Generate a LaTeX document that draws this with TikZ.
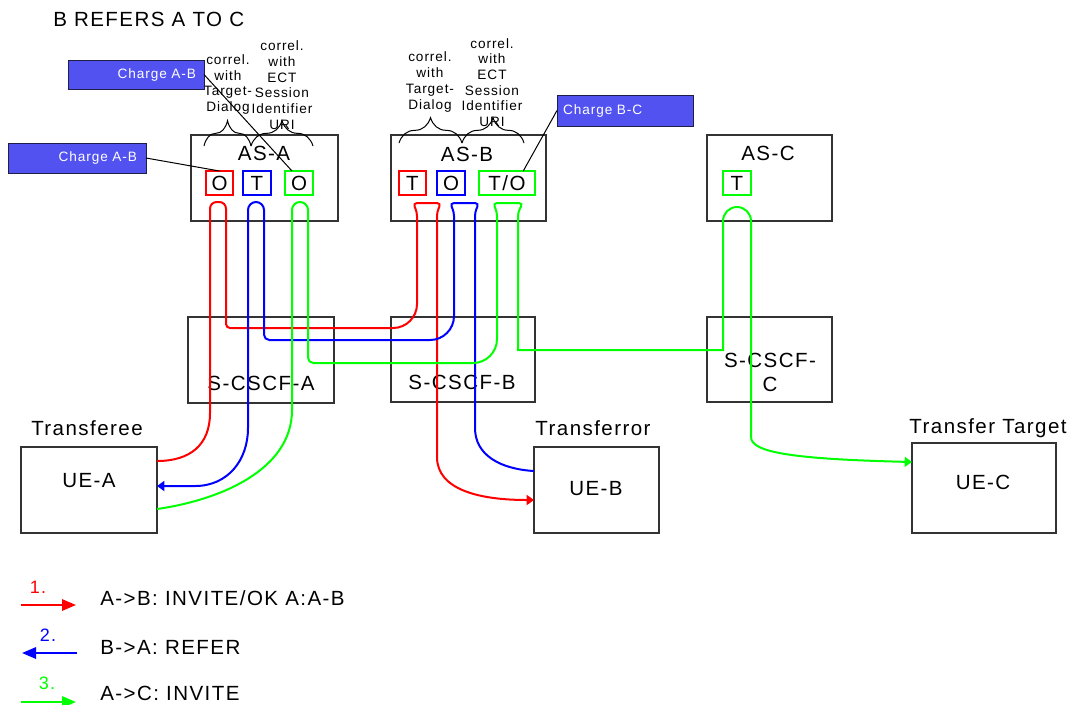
\documentclass[tikz,border=0pt]{standalone}
\usepackage{fontspec}
\setmainfont{Liberation Sans}[LetterSpace=7]
\usetikzlibrary{arrows.meta,decorations.pathreplacing,calc}
\definecolor{wred}{RGB}{255,0,0}
\definecolor{wblue}{RGB}{0,0,255}
\definecolor{wgreen}{RGB}{0,255,0}
\definecolor{chgfill}{RGB}{82,82,240}
\definecolor{chgline}{RGB}{30,30,70}
\begin{document}
\begin{tikzpicture}[x=0.75pt,y=-0.75pt,
  bx/.style={draw=black!80, line width=0.8pt, inner sep=0pt, outer sep=0pt},
  big/.style={font=\fontsize{15.4}{18}\selectfont, inner sep=0pt},
  tag/.style={draw, line width=1.5pt, inner sep=0pt, outer sep=0pt, minimum height=18pt, font=\fontsize{15.4}{18}\selectfont},
  small/.style={font=\fontsize{10.2}{11.8}\selectfont, align=center, inner sep=0pt},
  chg/.style={draw=chgline, line width=0.75pt, fill=chgfill, text=white, font=\fontsize{10.2}{12}\selectfont, inner ysep=0pt, outer sep=0pt},
  wire/.style={line width=1.5pt},
  brc/.style={decorate, decoration={brace, amplitude=19pt}, line width=0.75pt},
  thin/.style={line width=0.75pt, draw=black}
]
\useasboundingbox (0,0) rectangle (1069,704);

% title
\node[big, anchor=west] (title) at (53,19) {B REFERS A TO C};

% AS boxes
\node[bx, minimum width=110.25pt, minimum height=64.5pt] (asa) at (264.5,178) {};
\node[big] (asaL) at (264,153) {AS-A};
\node[bx, minimum width=116.25pt, minimum height=64.5pt] (asb) at (468.5,178) {};
\node[big] (asbL) at (467,154) {AS-B};
\node[bx, minimum width=93.75pt, minimum height=64.5pt] (asc) at (769.5,178) {};
\node[big] (ascL) at (768,153) {AS-C};

% tags
\node[tag, draw=wred, minimum width=20.25pt] (a1) at (219.5,183) {O};
\node[tag, draw=wblue, minimum width=21pt] (a2) at (257,183) {T};
\node[tag, draw=wgreen, minimum width=21pt] (a3) at (299,183) {O};
\node[tag, draw=wred, minimum width=20.25pt] (b1) at (412.5,183) {T};
\node[tag, draw=wblue, minimum width=21pt] (b2) at (451,183) {O};
\node[tag, draw=wgreen, minimum width=42pt] (b3) at (507,183) {T/O};
\node[tag, draw=wgreen, minimum width=21pt] (c1) at (737,183) {T};

% S-CSCF boxes
\node[bx, minimum width=109.5pt, minimum height=64.5pt] (scsa) at (261,360) {};
\node[big] (scsaL) at (261,383) {S-CSCF-A};
\node[bx, minimum width=108pt, minimum height=63.75pt] (scsb) at (463,359.5) {};
\node[big] (scsbL) at (462,382) {S-CSCF-B};
\node[bx, minimum width=93.75pt, minimum height=63.75pt] (scsc) at (769.5,359.5) {};
\node[big, align=center, font=\fontsize{15.4}{18}\selectfont] (scscL) at (770,372) {S-CSCF-\\C};

% UE boxes
\node[bx, minimum width=102pt, minimum height=64.5pt] (uea) at (89,490) {};
\node[big] (ueaL) at (89,481) {UE-A};
\node[big] (ueaT) at (87,428) {Transferee};
\node[bx, minimum width=93.75pt, minimum height=64.5pt] (ueb) at (596.5,490) {};
\node[big] (uebL) at (596,489) {UE-B};
\node[big] (uebT) at (593,428) {Transferror};
\node[bx, minimum width=108pt, minimum height=67.5pt] (uec) at (984,488) {};
\node[big] (uecL) at (983,482) {UE-C};
\node[big] (uecT) at (988,428) {Transfer Target};

% correlation texts and braces
\node[small] (cA1) at (228,84.5) {correl.\\with\\Target-\\Dialog};
\node[small] (cA2) at (282,85) {correl.\\with\\ECT\\Session\\Identifier\\URI};
\node[small] (cB1) at (430,82) {correl.\\with\\Target-\\Dialog};
\node[small] (cB2) at (492,82.5) {correl.\\with\\ECT\\Session\\Identifier\\URI};
\draw[brc] (204,146) -- (251,146);
\draw[brc] (251,146) -- (313,146);
\draw[brc] (399,143) -- (462,143);
\draw[brc] (462,143) -- (524,143);

% charge boxes
\node[chg, minimum width=102pt, minimum height=21.75pt, text width=90pt, inner xsep=6pt, align=right] (ch1) at (136,74.5) {Charge A-B};
\node[chg, minimum width=103.5pt, minimum height=22.5pt, text width=90pt, inner xsep=6.75pt, align=right] (ch2) at (77,158) {Charge A-B};
\node[chg, minimum width=102pt, minimum height=23.25pt, text width=93pt, inner xsep=4.5pt, align=left] (ch3) at (625,110.5) {Charge B-C};
\draw[thin] (ch1.east) -- ($(a3.north west)!0.25!(a3.north east)$);
\draw[thin] (ch2.east) -- (a1.north);
\draw[thin] (ch3.west) -- ($(b3.north west)!0.79!(b3.north east)$);

% wires (a corner takes the radius in force on the segment that arrives at it)
\draw[wire, wred, -{Triangle[length=5.5pt,width=7.5pt]}]
  ([yshift=21.75pt]uea.east) .. controls (190,461) and (210,445) .. (210,413)
  [rounded corners=5pt] -- (210,202) -- (226,202)
  [rounded corners=3pt] -- (226,328)
  [rounded corners=18pt] -- (417,328)
  [rounded corners=3pt] -- (417,212) -- (413,203) -- (441,203) -- (437,212) -- (437,453)
  [sharp corners] .. controls (437,490) and (480,500) .. ([yshift=-7.5pt]ueb.west);

\draw[wire, wblue, -{Triangle[length=5.5pt,width=7.5pt]}]
  ([yshift=14.25pt]ueb.west) .. controls (500,469) and (475,455) .. (475,428)
  [rounded corners=3pt] -- (475,212) -- (479,203) -- (450,203) -- (454,212)
  [rounded corners=18pt] -- (454,340)
  [rounded corners=4pt] -- (264,340)
  [rounded corners=6pt] -- (264,202) -- (248,202) -- (248,420)
  [sharp corners] .. controls (248,460) and (228,486) .. (195,486) -- ([yshift=3pt]uea.east);

\draw[wire, wgreen, -{Triangle[length=5.5pt,width=7.5pt]}]
  ([yshift=-14.25pt]uea.east) .. controls (220,500) and (292,470) .. (292,410)
  [rounded corners=6pt] -- (292,202) -- (308,202)
  [rounded corners=4pt] -- (308,363)
  [rounded corners=18pt] -- (497,363)
  [rounded corners=3pt] -- (497,212) -- (493,203) -- (523,203) -- (518,212)
  [sharp corners] -- (518,350)
  -- (723,350)
  [rounded corners=10.5pt] -- (723,207) -- (751,207)
  [sharp corners] -- (751,437)
  .. controls (751,452) and (790,459) .. ([yshift=19.5pt]uec.west);

% legend
\coordinate (l1a) at (21,605); \coordinate (l1b) at (76,605);
\coordinate (l2a) at (77,653); \coordinate (l2b) at (22,653);
\coordinate (l3a) at (21,702); \coordinate (l3b) at (76,702);
\draw[wire, wred, -{Triangle[length=10.5pt,width=8.5pt]}] (l1a) -- (l1b);
\draw[wire, wblue, -{Triangle[length=10.5pt,width=8.5pt]}] (l2a) -- (l2b);
\draw[wire, wgreen, -{Triangle[length=10.5pt,width=8.5pt]}] (l3a) -- (l3b);
\node[inner sep=0pt, text=wred, font=\fontsize{13.5}{15}\selectfont] (n1) at (38,587) {1.};
\node[inner sep=0pt, text=wblue, font=\fontsize{13.5}{15}\selectfont] (n2) at (48,635) {2.};
\node[inner sep=0pt, text=wgreen, font=\fontsize{13.5}{15}\selectfont] (n3) at (47,683) {3.};
\node[big, anchor=west] (t1) at (100,598) {A->B: INVITE/OK A:A-B};
\node[big, anchor=west] (t2) at (100,647) {B->A: REFER};
\node[big, anchor=west] (t3) at (100,693) {A->C: INVITE};
\end{tikzpicture}
\end{document}
